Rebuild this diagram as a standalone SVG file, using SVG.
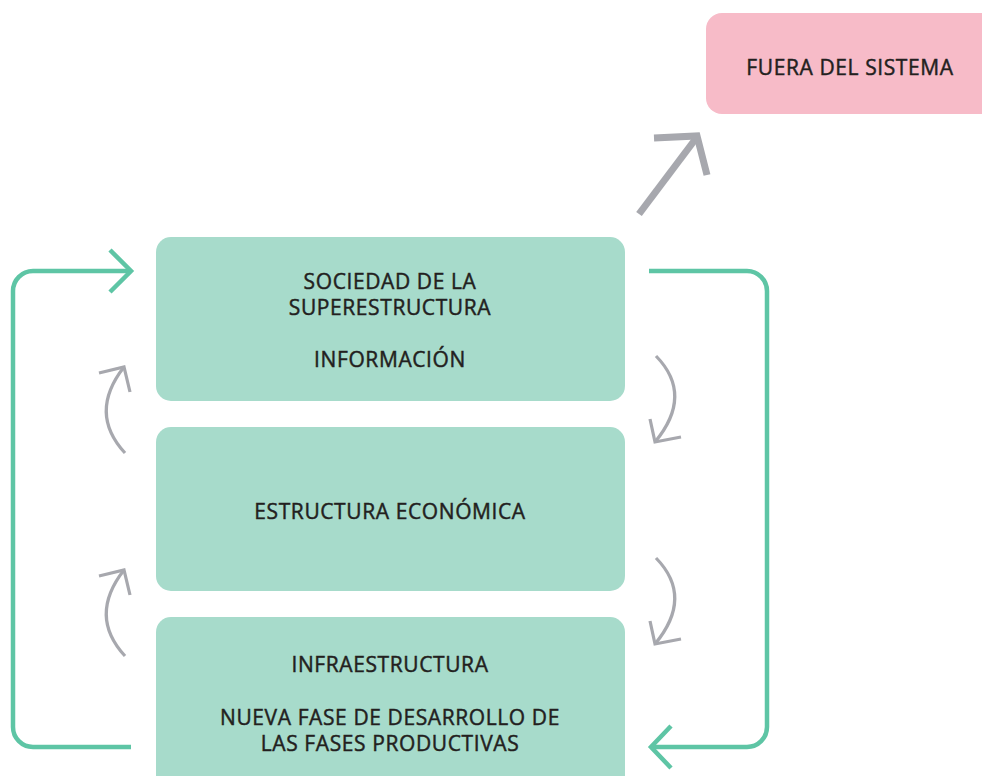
<svg xmlns="http://www.w3.org/2000/svg" width="982" height="776" viewBox="0 0 982 776">
<style>
.box{fill:#a7dbcb}
.pink{fill:#f7bbc8}
.t{font-family:"Open Sans","Liberation Sans",sans-serif;font-size:21px;font-weight:400;letter-spacing:0.6px;fill:#231f20;stroke:#231f20;stroke-width:0.45;text-anchor:middle}
.g{fill:none;stroke:#5ec5a5;stroke-width:4.5}
.c{fill:none;stroke:#a7a8ae;stroke-width:3.2}
.d{fill:none;stroke:#a7a8ae;stroke-width:7}
</style>
<rect width="982" height="776" fill="#fff"/>
<g id="fuera">
<rect class="pink" x="706" y="13" width="300" height="101" rx="16"/>
<text class="t" x="850" y="75">FUERA DEL SISTEMA</text>
</g>
<g id="superestructura">
<rect class="box" x="156" y="237" width="469" height="164" rx="15"/>
<text class="t" x="390" y="289">SOCIEDAD DE LA</text>
<text class="t" x="390" y="315">SUPERESTRUCTURA</text>
<text class="t" x="390" y="367">INFORMACIÓN</text>
</g>
<g id="estructura">
<rect class="box" x="156" y="427" width="469" height="164" rx="15"/>
<text class="t" x="390" y="519">ESTRUCTURA ECONÓMICA</text>
</g>
<g id="infraestructura">
<rect class="box" x="156" y="617" width="469" height="190" rx="15"/>
<text class="t" x="390" y="672">INFRAESTRUCTURA</text>
<text class="t" x="390" y="725">NUEVA FASE DE DESARROLLO DE</text>
<text class="t" x="390" y="751">LAS FASES PRODUCTIVAS</text>
</g>
<g id="connectors">
<path class="g" d="M131 747 H33 A20 20 0 0 1 13 727 V291 A20 20 0 0 1 33 271 H131"/>
<path class="g" d="M110 250 L131 271 L110 292"/>
<path class="g" d="M649 271 H747 A20 20 0 0 1 767 291 V727 A20 20 0 0 1 747 747 H651"/>
<path class="g" d="M671 726 L651 747 L671 768"/>
<path class="d" d="M639 214 L697 137"/>
<path class="d" d="M654 138 L697 136 L707 175"/>
<path class="c" d="M656 356 Q694 395 655 442"/>
<path class="c" d="M650 419 L655 442 L681 437"/>
<path class="c" d="M656 558 Q694 597 655 644"/>
<path class="c" d="M650 621 L655 644 L681 639"/>
<path class="c" d="M125 453 Q88 413 124 367"/>
<path class="c" d="M99 373 L124 367 L130 392"/>
<path class="c" d="M125 656 Q88 616 124 570"/>
<path class="c" d="M99 576 L124 570 L130 595"/>
</g>
</svg>
